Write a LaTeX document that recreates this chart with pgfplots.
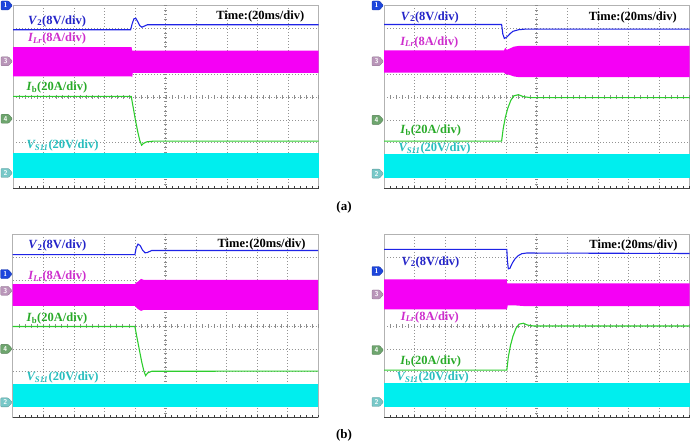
\documentclass[border=0pt]{standalone}
\usepackage{pgfplots}
\pgfplotsset{compat=1.18}
\usepackage{fontspec}
\setmainfont{Liberation Serif}

% trace colours
\definecolor{vtwo}{RGB}{30,35,230}
\definecolor{ilr}{RGB}{245,0,245}
\definecolor{ib}{RGB}{45,205,45}
\definecolor{vs}{RGB}{0,238,238}
% label colours
\definecolor{vtwoT}{RGB}{35,35,200}
\definecolor{ilrT}{RGB}{205,45,205}
\definecolor{ibT}{RGB}{40,170,40}
\definecolor{vsT}{RGB}{40,190,190}
% channel marker colours
\definecolor{mkA}{RGB}{30,70,220}
\definecolor{mkB}{RGB}{185,150,185}
\definecolor{mkC}{RGB}{110,165,110}
\definecolor{mkD}{RGB}{120,200,200}

\newcommand{\lblfont}{\fontsize{12.5}{14}\selectfont\bfseries}

% oscilloscope screen: 10 x 8 divisions
\pgfplotsset{
  osc/.style={
    scale only axis, width=305.5pt, height=183pt,
    anchor=south west, clip=false,
    xmin=0, xmax=10, ymin=0, ymax=8,
    xtick={0,...,10}, ytick={0,...,8},
    xticklabels={}, yticklabels={},
    major tick length=0pt,
    grid=major,
    major grid style={gray!85, line width=0.55pt, dash pattern=on 0.8pt off 2.2pt},
    axis line style={gray!60, line width=0.45pt},
  },
  vtrace/.style={vtwo, line width=1.1pt},
  btrace/.style={ib, line width=1.1pt},
}

% small tick marks on the centre graticule lines and the bottom edge
\newcommand{\graticule}{%
  \pgfplotsinvokeforeach{0.2,0.4,...,9.9}{%
    \draw[gray!90, line width=0.4pt] (axis cs:##1,4) ++(0,-1.6pt) -- ++(0,3.2pt);
    \draw[black!75, line width=0.45pt] (axis cs:##1,0) -- ++(0,2.2pt);
  }%
  \pgfplotsinvokeforeach{0.2,0.4,...,7.9}{%
    \draw[gray!90, line width=0.4pt] (axis cs:5,##1) ++(-1.6pt,0) -- ++(3.2pt,0);
  }%
  \draw[black!75, line width=1.1pt] (axis cs:0,0) -- (axis cs:10,0);
}

% channel marker on the left edge: colour, level, channel number
\newcommand{\chmark}[3]{%
  \draw[draw=#1!75!black, fill=#1, line width=0.3pt, rounded corners=0.8pt]
    (axis cs:0,#2) ++(-12pt,4.5pt) -- ++(7.5pt,0) -- ++(4pt,-4.5pt)
    -- ++(-4pt,-4.5pt) -- ++(-7.5pt,0) -- cycle;
  \node[font=\sffamily\bfseries\fontsize{7}{7}\selectfont, text=white, inner sep=0pt]
    at ([xshift=-7.5pt]axis cs:0,#2) {#3};
}

\newcommand{\labV}{\textit{V}\textsubscript{2}(8V/div)}
\newcommand{\labI}{\textit{I\textsubscript{Lr}}(8A/div)}
\newcommand{\labB}{\textit{I}\textsubscript{b}(20A/div)}
\newcommand{\labS}{\textit{V\textsubscript{S11}}(20V/div)}
\newcommand{\labT}{Time:(20ms/div)}

\begin{document}
\begin{tikzpicture}
\useasboundingbox (0,0) rectangle (691pt,446pt);

% ---------- (a) left ----------
\begin{axis}[osc, at={(13pt,257.5pt)}]
  \graticule
  \addplot[draw=none, fill=vs] coordinates {(0,0.48) (0,1.53) (10,1.53) (10,0.48)} -- cycle;
  \addplot[draw=none, fill=ilr] coordinates {
    (0,4.90) (0,6.18) (3.88,6.18) (3.90,6.03) (10,6.03) (10,5.05)
    (3.92,5.05) (3.90,4.86) (3.88,4.90)} -- cycle;
  \addplot[vtrace] coordinates {
    (0,6.94) (3.85,6.94) (3.90,7.20) (3.96,7.42) (4.02,7.44) (4.08,7.30)
    (4.15,7.12) (4.22,7.05) (4.30,7.10) (4.40,7.16) (10,7.16)};
  \addplot[btrace] coordinates {
    (0,4.03) (3.87,4.03) (3.92,3.65) (4.00,3.05) (4.08,2.50) (4.15,2.10)
    (4.21,1.89) (4.27,1.97) (4.38,2.04) (4.60,2.07) (10,2.07)};
  \chmark{mkA}{8}{1}
  \chmark{mkB}{5.56}{3}
  \chmark{mkC}{3.05}{4}
  \chmark{mkD}{0.68}{2}
  \node[anchor=west, text=vtwoT, font=\lblfont] at (axis cs:0.38,7.32) {\labV};
  \node[anchor=east, text=black, font=\lblfont] at (axis cs:9.65,7.53) {\labT};
  \node[anchor=west, text=ilrT, font=\lblfont] at (axis cs:0.38,6.55) {\labI};
  \node[anchor=west, text=ibT, font=\lblfont] at (axis cs:0.33,4.41) {\labB};
  \node[anchor=west, text=vsT, font=\lblfont] at (axis cs:0.33,1.86) {\labS};
\end{axis}

% ---------- (a) right ----------
\begin{axis}[osc, at={(384pt,257.5pt)}]
  \graticule
  \addplot[draw=none, fill=vs] coordinates {(0,0.47) (0,1.50) (10,1.50) (10,0.47)} -- cycle;
  \addplot[draw=none, fill=ilr] coordinates {
    (0,5.06) (0,6.04) (3.93,6.04) (3.97,6.15) (4.02,6.06) (4.12,6.12)
    (4.25,6.20) (4.40,6.23) (10,6.23) (10,4.87) (4.40,4.87) (4.25,4.90)
    (4.10,4.97) (3.98,5.00) (3.93,5.06)} -- cycle;
  \addplot[vtrace] coordinates {
    (0,7.17) (3.85,7.17) (3.89,6.75) (3.94,6.56) (4.02,6.62) (4.12,6.76)
    (4.22,6.87) (4.40,6.94) (4.65,6.97) (10,6.97)};
  \addplot[btrace] coordinates {
    (0,2.07) (3.85,2.07) (3.90,2.60) (3.97,3.10) (4.05,3.50) (4.15,3.85)
    (4.25,4.05) (4.40,4.10) (4.55,4.02) (4.80,3.97) (10,3.97)};
  \chmark{mkA}{8}{1}
  \chmark{mkB}{5.56}{3}
  \chmark{mkC}{3.00}{4}
  \chmark{mkD}{0.65}{2}
  \node[anchor=west, text=vtwoT, font=\lblfont] at (axis cs:0.44,7.49) {\labV};
  \node[anchor=east, text=black, font=\lblfont] at (axis cs:9.70,7.46) {\labT};
  \node[anchor=west, text=ilrT, font=\lblfont] at (axis cs:0.42,6.40) {\labI};
  \node[anchor=west, text=ibT, font=\lblfont] at (axis cs:0.42,2.55) {\labB};
  \node[anchor=west, text=vsT, font=\lblfont] at (axis cs:0.36,1.75) {\labS};
\end{axis}

% ---------- (b) left ----------
\begin{axis}[osc, at={(12.7pt,28.5pt)}]
  \graticule
  \addplot[draw=none, fill=vs] coordinates {(0,0.44) (0,1.46) (10,1.46) (10,0.44)} -- cycle;
  \addplot[draw=none, fill=ilr] coordinates {
    (0,4.88) (0,5.83) (4.00,5.83) (4.05,5.90) (4.12,5.96) (4.20,6.06)
    (4.28,6.02) (10,6.02) (10,4.71) (4.30,4.71) (4.20,4.66) (4.10,4.74)
    (4.02,4.84) (4.00,4.88)} -- cycle;
  \addplot[vtrace] coordinates {
    (0,7.12) (4.00,7.12) (4.04,7.40) (4.10,7.58) (4.17,7.52) (4.25,7.32)
    (4.33,7.20) (4.40,7.21) (4.55,7.30) (10,7.30)};
  \addplot[btrace] coordinates {
    (0,3.98) (4.00,3.98) (4.06,3.55) (4.14,3.00) (4.22,2.45) (4.29,2.05)
    (4.35,1.83) (4.42,1.95) (4.55,2.02) (10,2.03)};
  \chmark{mkA}{6.27}{1}
  \chmark{mkB}{5.54}{3}
  \chmark{mkC}{3.00}{4}
  \chmark{mkD}{0.66}{2}
  \node[anchor=west, text=vtwoT, font=\lblfont] at (axis cs:0.40,7.51) {\labV};
  \node[anchor=east, text=black, font=\lblfont] at (axis cs:9.70,7.56) {\labT};
  \node[anchor=west, text=ilrT, font=\lblfont] at (axis cs:0.40,6.17) {\labI};
  \node[anchor=west, text=ibT, font=\lblfont] at (axis cs:0.34,4.31) {\labB};
  \node[anchor=west, text=vsT, font=\lblfont] at (axis cs:0.34,1.75) {\labS};
\end{axis}

% ---------- (b) right ----------
\begin{axis}[osc, at={(384pt,28.5pt)}]
  \graticule
  \addplot[draw=none, fill=vs] coordinates {(0,0.47) (0,1.50) (10,1.50) (10,0.47)} -- cycle;
  \addplot[draw=none, fill=ilr] coordinates {
    (0,4.73) (0,6.04) (4.02,6.04) (4.03,5.86) (10,5.86) (10,4.87)
    (4.60,4.87) (4.30,4.90) (4.05,4.90) (4.03,4.76) (4.02,4.73)} -- cycle;
  \addplot[vtrace] coordinates {
    (0,7.35) (4.02,7.35) (4.04,6.85) (4.07,6.50) (4.12,6.52) (4.20,6.75)
    (4.29,6.94) (4.40,7.08) (4.51,7.16) (4.67,7.19) (10,7.17)};
  \addplot[btrace] coordinates {
    (0,2.07) (4.02,2.07) (4.07,2.65) (4.14,3.15) (4.22,3.55) (4.32,3.90)
    (4.42,4.08) (4.56,4.12) (4.70,4.04) (4.90,4.00) (10,4.00)};
  \chmark{mkA}{6.40}{1}
  \chmark{mkB}{5.38}{3}
  \chmark{mkC}{2.95}{4}
  \chmark{mkD}{0.68}{2}
  \node[anchor=west, text=vtwoT, font=\lblfont] at (axis cs:0.46,6.79) {\labV};
  \node[anchor=east, text=black, font=\lblfont] at (axis cs:9.72,7.52) {\labT};
  \node[anchor=west, text=ilrT, font=\lblfont] at (axis cs:0.44,4.39) {\labI};
  \node[anchor=west, text=ibT, font=\lblfont] at (axis cs:0.42,2.47) {\labB};
  \node[anchor=west, text=vsT, font=\lblfont] at (axis cs:0.30,1.75) {\labS};
\end{axis}

% sub-figure captions
\node[font=\fontsize{13}{15}\selectfont\bfseries] at (344pt,239pt) {(a)};
\node[font=\fontsize{13}{15}\selectfont\bfseries] at (344pt,11pt) {(b)};
\end{tikzpicture}
\end{document}
